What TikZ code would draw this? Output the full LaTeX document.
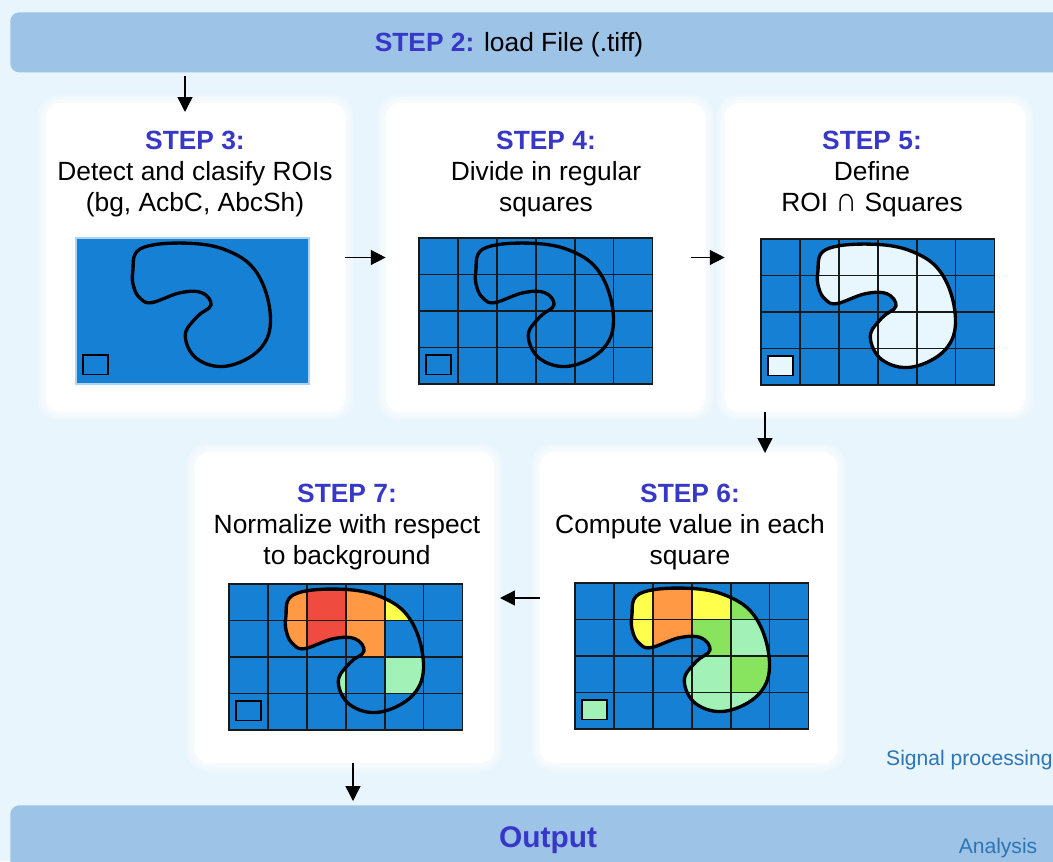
\documentclass[tikz,border=0pt]{standalone}
\usepackage{fontspec}
\setmainfont{Liberation Sans}
\usetikzlibrary{arrows.meta,backgrounds}

\definecolor{paneback}{RGB}{232,245,253}
\definecolor{barblue}{RGB}{157,195,230}
\definecolor{steplbl}{RGB}{55,55,200}
\definecolor{notecol}{RGB}{46,117,182}
\definecolor{roiblue}{RGB}{21,128,212}
\definecolor{roilight}{RGB}{232,246,253}
\definecolor{vred}{RGB}{239,75,62}
\definecolor{vorange}{RGB}{255,153,68}
\definecolor{vyellow}{RGB}{255,255,76}
\definecolor{vgreen}{RGB}{136,227,94}
\definecolor{vlgreen}{RGB}{162,242,184}

\newcommand{\steplabel}[1]{\textcolor{steplbl}{\bfseries #1}}

% ROI outline in grid units (6 x 4 squares)
\newcommand{\roiblob}{plot[smooth cycle,tension=0.65] coordinates {(1.65,0.30) (2.77,0.14) (3.88,0.34) (4.66,0.97) (5.0,2.16) (4.74,3.03) (3.88,3.51) (3.11,3.31) (2.81,2.67) (3.11,2.16) (3.47,1.84) (3.24,1.50) (2.68,1.50) (1.95,1.77) (1.66,1.66) (1.49,1.36) (1.46,0.92)}}
\newcommand{\squares}[1]{\foreach \c/\i/\j in {#1} \fill[\c] (\i,\j) rectangle ++(1,1);}

% image: origin, fill inside ROI, bg square fill, grid line style
\newcommand{\roipanel}[4]{%
  \begin{scope}[shift={#1},x=0.778cm,y=-0.73cm]
    \fill[roiblue] (0,0) rectangle (6,4);
    \begin{scope}
      \clip \roiblob;
      #2
    \end{scope}
    \foreach \i in {1,...,5} \draw[#4] (\i,0) -- (\i,4);
    \foreach \j in {1,2,3} \draw[#4] (0,\j) -- (6,\j);
    \draw[#4,line width=0.6pt] (0,0) rectangle (6,4);
    \draw[roiline] \roiblob;
    \draw[line width=1.1pt,fill=#3] (0.19,3.2) rectangle (0.82,3.74);
  \end{scope}}

\begin{document}
\begin{tikzpicture}[x=0.02cm,y=-0.02cm,
  stepbox/.style={fill=white,rounded corners=8pt,minimum width=5.98cm,minimum height=6.18cm,inner sep=0pt},
  bar/.style={fill=barblue,rounded corners=5pt,minimum width=21.5cm,minimum height=#1,inner sep=0pt,anchor=north west},
  steptxt/.style={align=center,anchor=north,inner sep=0pt,font=\fontsize{15}{17.8}\selectfont},
  note/.style={text=notecol,font=\fontsize{12}{14}\selectfont,inner sep=0pt},
  flow/.style={-{Triangle[width=8.5pt,length=8.5pt]},line width=0.8pt},
  roiline/.style={line width=1.9pt,line join=round},
  gridline/.style={line width=1.1pt,draw=black!90},
  plainframe/.style={draw=white!65!roiblue,line width=0.6pt}]
 \useasboundingbox (0,0) rectangle (1053,861);

 % bars
 \node[bar=1.2cm] (load) at (10,12) {};
 \node[bar=2cm] (out) at (10,805) {};
 \node[font=\fontsize{15}{18}\selectfont,anchor=base] (loadtxt) at (509,51.5) {\steplabel{STEP 2:} load File (.tiff)};
 \node[font=\fontsize{17}{20}\selectfont\bfseries,text=steplbl,anchor=base] (outtxt) at (548,847) {Output};
 \node[note,anchor=base east] (sig) at (1053,765) {Signal processing};
 \node[note,anchor=base] (ana) at (998,853.5) {Analysis};

 % step boxes
 \node[stepbox] (s3) at (195.5,257.5) {};
 \node[stepbox,minimum width=6.38cm] (s4) at (545.5,257.5) {};
 \node[stepbox,minimum width=6cm] (s5) at (875,257.5) {};
 \node[stepbox,minimum height=6.22cm] (s7) at (344.5,607.5) {};
 \node[stepbox,minimum width=5.94cm,minimum height=6.22cm] (s6) at (688.5,607.5) {};

 \begin{scope}[on background layer]
  \fill[paneback] (0,0) rectangle (1053,861);
  \foreach \n in {s3,s4,s5,s6,s7}
   \foreach \k in {2,4,6,8}
    \fill[white,opacity=0.25,rounded corners=12pt] ([shift={(-\k,-\k)}]\n.north west) rectangle ([shift={(\k,\k)}]\n.south east);
 \end{scope}

 \node[steptxt] (t3) at (195,130.5) {\steplabel{STEP 3:}\\Detect and clasify ROIs\\(bg, AcbC, AbcSh)};
 \node[steptxt] (t4) at (546,130.5) {\steplabel{STEP 4:}\\Divide in regular\\squares};
 \node[steptxt] (t5) at (872,130.5) {\steplabel{STEP 5:}\\Define\\ROI \scalebox{1.15}[1.3]{∩} Squares};
 \node[steptxt] (t7) at (347,483.5) {\steplabel{STEP 7:}\\Normalize with respect\\to background};
 \node[steptxt] (t6) at (690,483.5) {\steplabel{STEP 6:}\\Compute value in each\\square};

 % images
 \roipanel{(76,238)}{}{roiblue}{plainframe,draw=none}
 \draw[plainframe] (76,238) rectangle ++(233,146);
 \roipanel{(419,238)}{}{roiblue}{gridline}
 \roipanel{(761,239)}{\fill[roilight] (0,0) rectangle (6,4);}{roilight}{gridline}
 \roipanel{(575,583)}{\squares{vyellow/1/0,vorange/2/0,vyellow/3/0,vgreen/4/0,vyellow/1/1,vorange/2/1,vgreen/3/1,vlgreen/4/1,vlgreen/2/2,vlgreen/3/2,vgreen/4/2,vlgreen/2/3,vlgreen/3/3,vlgreen/4/3}}{vlgreen}{gridline}
 \roipanel{(229,584)}{\squares{vorange/1/0,vred/2/0,vorange/3/0,vyellow/4/0,vorange/1/1,vred/2/1,vorange/3/1,vlgreen/2/2,vlgreen/4/2}}{roiblue}{gridline}

 % flow
 \coordinate (in3) at (185,112);
 \coordinate (a56) at (765,453);
 \coordinate (a67) at (500,598);
 \coordinate (out7) at (353,801);
 \draw[flow] ([yshift=-2pt]load.south -| in3) -- (in3);
 \draw[flow] (s3.east) -- (s4.west);
 \draw[flow] ([xshift=-19pt]s5.west) -- (s5.west);
 \draw[flow] (s5.south -| a56) -- (a56);
 \draw[flow] (s6.west |- a67) -- (a67);
 \draw[flow] (s7.south -| out7) -- (out7);
\end{tikzpicture}
\end{document}
